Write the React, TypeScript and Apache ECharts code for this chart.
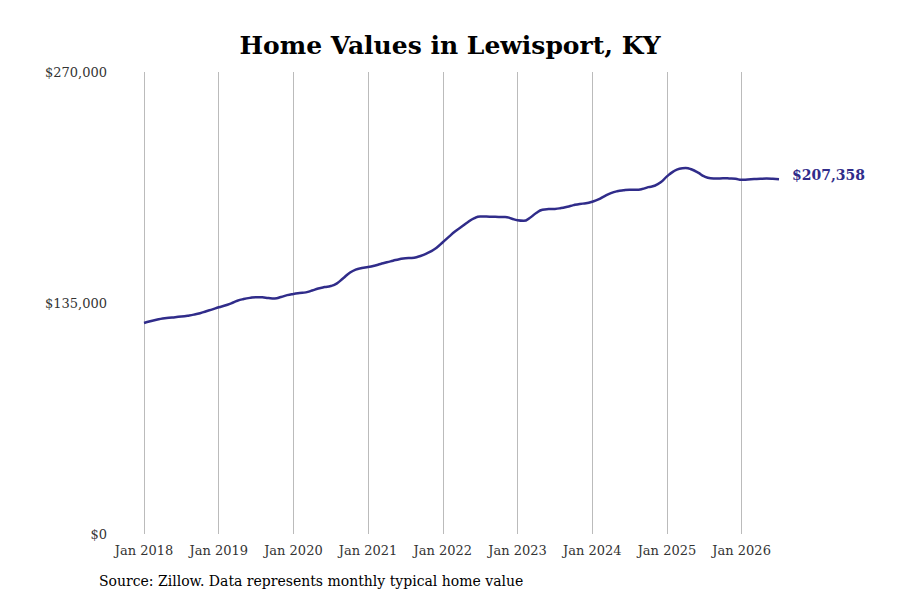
import {useEffect, useRef} from "react";
import * as echarts from "echarts";

const years = [2018, 2019, 2020, 2021, 2022, 2023, 2024, 2025, 2026];
const monthNames = ["Jan", "Feb", "Mar", "Apr", "May", "Jun", "Jul", "Aug", "Sep", "Oct", "Nov", "Dec"];

// monthly typical home value, Jan 2018 .. Jul 2026
const values2018 = [123300, 124300, 125200, 126000, 126400, 126700, 127100, 127600, 128200, 129000, 130200, 131300];
const values2019 = [132500, 133500, 134800, 136300, 137300, 138000, 138400, 138300, 137900, 137700, 138500, 139600];
const values2020 = [140300, 140800, 141200, 142300, 143500, 144300, 144900, 146500, 149500, 152500, 154500, 155400];
const values2021 = [156000, 156800, 157800, 158800, 159700, 160600, 161200, 161300, 162000, 163300, 165000, 167300];
const values2022 = [170500, 173800, 176900, 179500, 182200, 184500, 185600, 185500, 185400, 185300, 185300, 184400];
const values2023 = [183300, 183000, 184800, 187600, 189500, 189900, 190000, 190500, 191300, 192200, 192900, 193300];
const values2024 = [194200, 195500, 197500, 199200, 200300, 200900, 201200, 201200, 201600, 202700, 203500, 205500];
const values2025 = [209000, 211800, 213500, 213900, 213000, 211200, 209000, 207900, 207700, 207900, 207800, 207600];
const values2026 = [207000, 207200, 207400, 207600, 207700, 207600, 207358];

const values = [...values2018, ...values2019, ...values2020, ...values2021, ...values2022, ...values2023, ...values2024, ...values2025, ...values2026];
const categories = values.map((_, i) => `${monthNames[i % 12]} ${years[Math.floor(i / 12)]}`);

const money = (v: number) => "$" + v.toLocaleString("en-US");
const font = "'DejaVu Serif', 'Liberation Serif', serif";

export default function App() {
    const domRef = useRef<HTMLDivElement>(null);

    useEffect(() => {
        if (!domRef.current) return;
        const chart = echarts.init(domRef.current, null, {renderer: "svg"});
        chart.setOption({
            animation: false,
            textStyle: {fontFamily: font},
            title: {
                text: "Home Values in Lewisport, KY",
                left: "center",
                top: 28,
                textStyle: {fontFamily: font, fontSize: 25, fontWeight: "bold", color: "#000"},
            },
            graphic: [{
                type: "text", left: 99, top: 574,
                style: {text: "Source: Zillow. Data represents monthly typical home value", font: `14px ${font}`, fill: "#000"},
            }],
            grid: {left: 144, right: 121, top: 72, bottom: 66},
            xAxis: {
                type: "category",
                data: categories,
                boundaryGap: false,
                axisLine: {show: false},
                axisTick: {show: false},
                axisLabel: {interval: (i: number) => i % 12 === 0, color: "#333", fontSize: 13, fontFamily: font, margin: 10},
                splitLine: {show: true, interval: (i: number) => i % 12 === 0, lineStyle: {color: "#bbb", width: 1}},
            },
            yAxis: {
                type: "value",
                min: 0,
                max: 270000,
                interval: 135000,
                axisLine: {show: false},
                axisTick: {show: false},
                splitLine: {show: false},
                axisLabel: {formatter: money, color: "#333", fontSize: 13, fontFamily: font, margin: 37},
            },
            series: [{
                type: "line",
                data: values,
                smooth: true,
                symbol: "none",
                lineStyle: {color: "#302c8a", width: 2.5},
                endLabel: {
                    show: true,
                    formatter: (p: any) => money(p.value),
                    color: "#302c8a",
                    fontWeight: "bold",
                    fontSize: 14,
                    fontFamily: font,
                    distance: 13,
                    offset: [0, -4],
                },
            }],
        });
        return () => chart.dispose();
    }, []);

    return <div ref={domRef} style={{width: 900, height: 600, margin: -8}} />;
}
